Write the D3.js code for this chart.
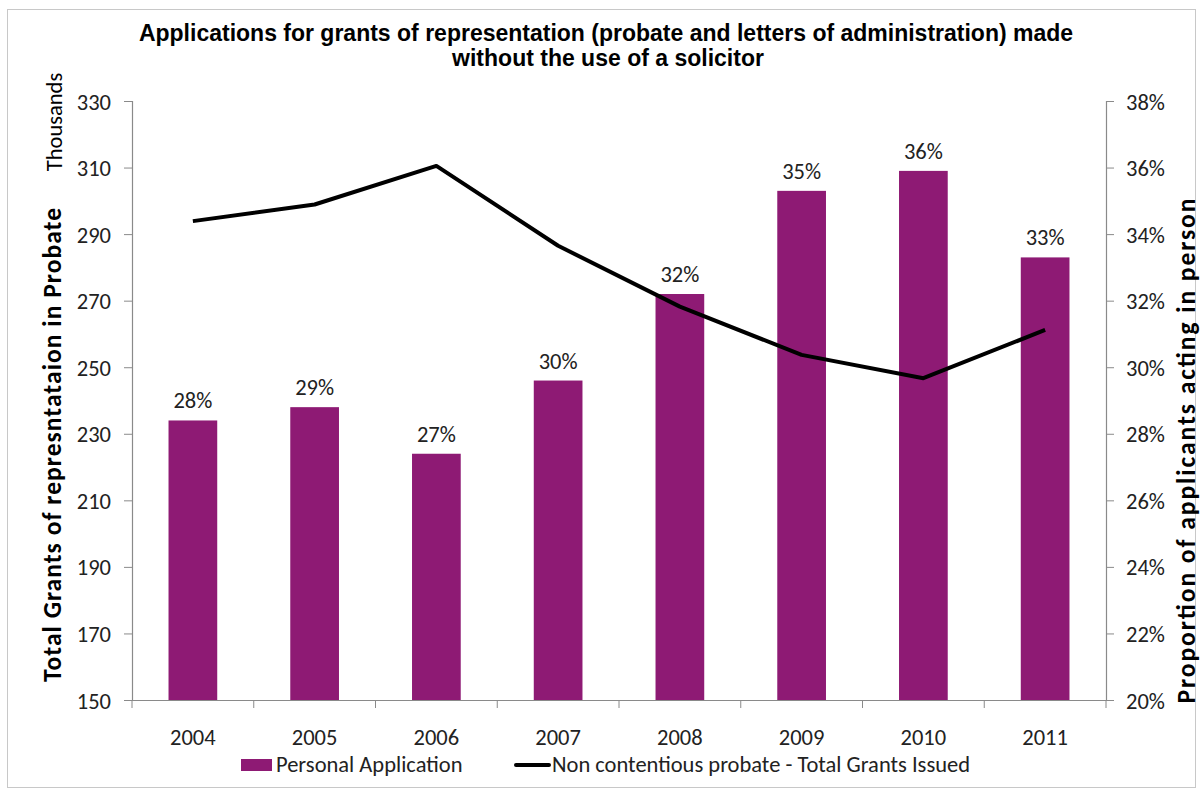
<!DOCTYPE html>
<html><head><meta charset="utf-8">
<script src="https://cdn.jsdelivr.net/npm/d3@7"></script>
<style>body{margin:0;background:#fff}svg{display:block}</style>
</head><body>
<svg id="c" width="1202" height="791"></svg>
<script>
const years = ["2004","2005","2006","2007","2008","2009","2010","2011"];
const personalPct = [28.4, 28.8, 27.4, 29.6, 32.2, 35.3, 35.9, 33.3];
const pctLabels = ["28%","29%","27%","30%","32%","35%","36%","33%"];
const totalGrants = [293.9, 298.9, 310.5, 286.5, 268.2, 253.7, 246.7, 261.2];
const leftTicks = [150,170,190,210,230,250,270,290,310,330];
const rightTicks = [20,22,24,26,28,30,32,34,36,38];

const svg = d3.select("#c");
const L = 132, R = 1106, T = 101, B = 700;
const font = "Carlito, Lato, 'Open Sans', sans-serif";
const fs = 22.5;

svg.append("rect").attr("x",7.5).attr("y",9.5).attr("width",1188).attr("height",778)
  .attr("fill","none").attr("stroke","#c8c8c8");

const xb = d3.scaleBand().domain(years).range([L,R]);
const barW = xb.bandwidth()*0.4;
const yL = d3.scaleLinear().domain([150,330]).range([B,T]);
const yR = d3.scaleLinear().domain([20,38]).range([B,T]);
const cx = d => xb(d) + xb.bandwidth()/2;

// bars
svg.append("g").selectAll("rect").data(years).join("rect")
  .attr("x",d=>cx(d)-barW/2).attr("width",barW)
  .attr("y",(d,i)=>yR(personalPct[i])).attr("height",(d,i)=>B-yR(personalPct[i]))
  .attr("fill","#8e1a74");
svg.append("g").selectAll("text").data(years).join("text")
  .attr("x",d=>cx(d)).attr("y",(d,i)=>yR(personalPct[i])-12)
  .attr("text-anchor","middle").attr("font-family",font).attr("font-size",fs).attr("fill","#222")
  .text((d,i)=>pctLabels[i]);

// axes
const axisColor = "#8a8a8a";
const gl = svg.append("g").attr("transform",`translate(${L},0)`)
  .call(d3.axisLeft(yL).tickValues(leftTicks).tickSize(8).tickPadding(13));
const gr = svg.append("g").attr("transform",`translate(${R},0)`)
  .call(d3.axisRight(yR).tickValues(rightTicks).tickSize(8).tickPadding(12).tickFormat(d=>d+"%"));
const gx = svg.append("g").attr("transform",`translate(0,${B})`)
  .call(d3.axisBottom(xb).tickSize(0).tickPadding(29));
svg.append("g").selectAll("line").data(d3.range(years.length+1)).join("line")
  .attr("x1",i=>L+i*xb.step()).attr("x2",i=>L+i*xb.step())
  .attr("y1",B).attr("y2",B+8).attr("stroke",axisColor);
[gl,gr,gx].forEach(g=>{
  g.selectAll("path.domain").attr("stroke",axisColor).attr("stroke-width",1.2);
  g.selectAll(".tick line").attr("stroke",axisColor);
  g.selectAll("text").attr("font-family",font).attr("font-size",fs).attr("fill","#222");
});
gl.selectAll("text").attr("dy","0.36em");
gr.selectAll("text").attr("dy","0.36em");

// line
const line = d3.line().x((d,i)=>cx(years[i])).y(d=>yL(d));
svg.append("path").datum(totalGrants).attr("d",line)
  .attr("fill","none").attr("stroke","#000").attr("stroke-width",4).attr("stroke-linejoin","round");

// titles
const tf = "'Liberation Sans', Arial, sans-serif";
svg.append("text").attr("x",606).attr("y",41).attr("text-anchor","middle")
  .attr("font-family",tf).attr("font-weight","bold").attr("font-size",23).attr("fill","#000")
  .text("Applications for grants of representation (probate and letters of administration) made");
svg.append("text").attr("x",608).attr("y",66).attr("text-anchor","middle")
  .attr("font-family",tf).attr("font-weight","bold").attr("font-size",23).attr("fill","#000")
  .text("without the use of a solicitor");

svg.append("text").attr("transform","translate(61,445) rotate(-90)").attr("text-anchor","middle")
  .attr("font-family",font).attr("font-weight","bold").attr("font-size",25.5).attr("fill","#000")
  .attr("textLength",474).attr("lengthAdjust","spacing")
  .text("Total Grants of represntataion in Probate");
svg.append("text").attr("transform","translate(62,122) rotate(-90)").attr("text-anchor","middle")
  .attr("font-family",font).attr("font-size",fs).attr("fill","#000")
  .text("Thousands");
svg.append("text").attr("transform","translate(1195,451) rotate(-90)").attr("text-anchor","middle")
  .attr("font-family",font).attr("font-weight","bold").attr("font-size",25.5).attr("fill","#000")
  .attr("textLength",505).attr("lengthAdjust","spacing")
  .text("Proportion of applicants acting in person");

// legend
svg.append("rect").attr("x",241).attr("y",759).attr("width",31).attr("height",12).attr("fill","#8e1a74");
svg.append("text").attr("x",276).attr("y",772).attr("font-family",font).attr("font-size",fs).attr("fill","#222")
  .text("Personal Application");
svg.append("line").attr("x1",516).attr("x2",549).attr("y1",765).attr("y2",765)
  .attr("stroke","#000").attr("stroke-width",4).attr("stroke-linecap","round");
svg.append("text").attr("x",552).attr("y",772).attr("font-family",font).attr("font-size",fs).attr("fill","#222")
  .text("Non contentious probate - Total Grants Issued");
</script>
</body></html>
